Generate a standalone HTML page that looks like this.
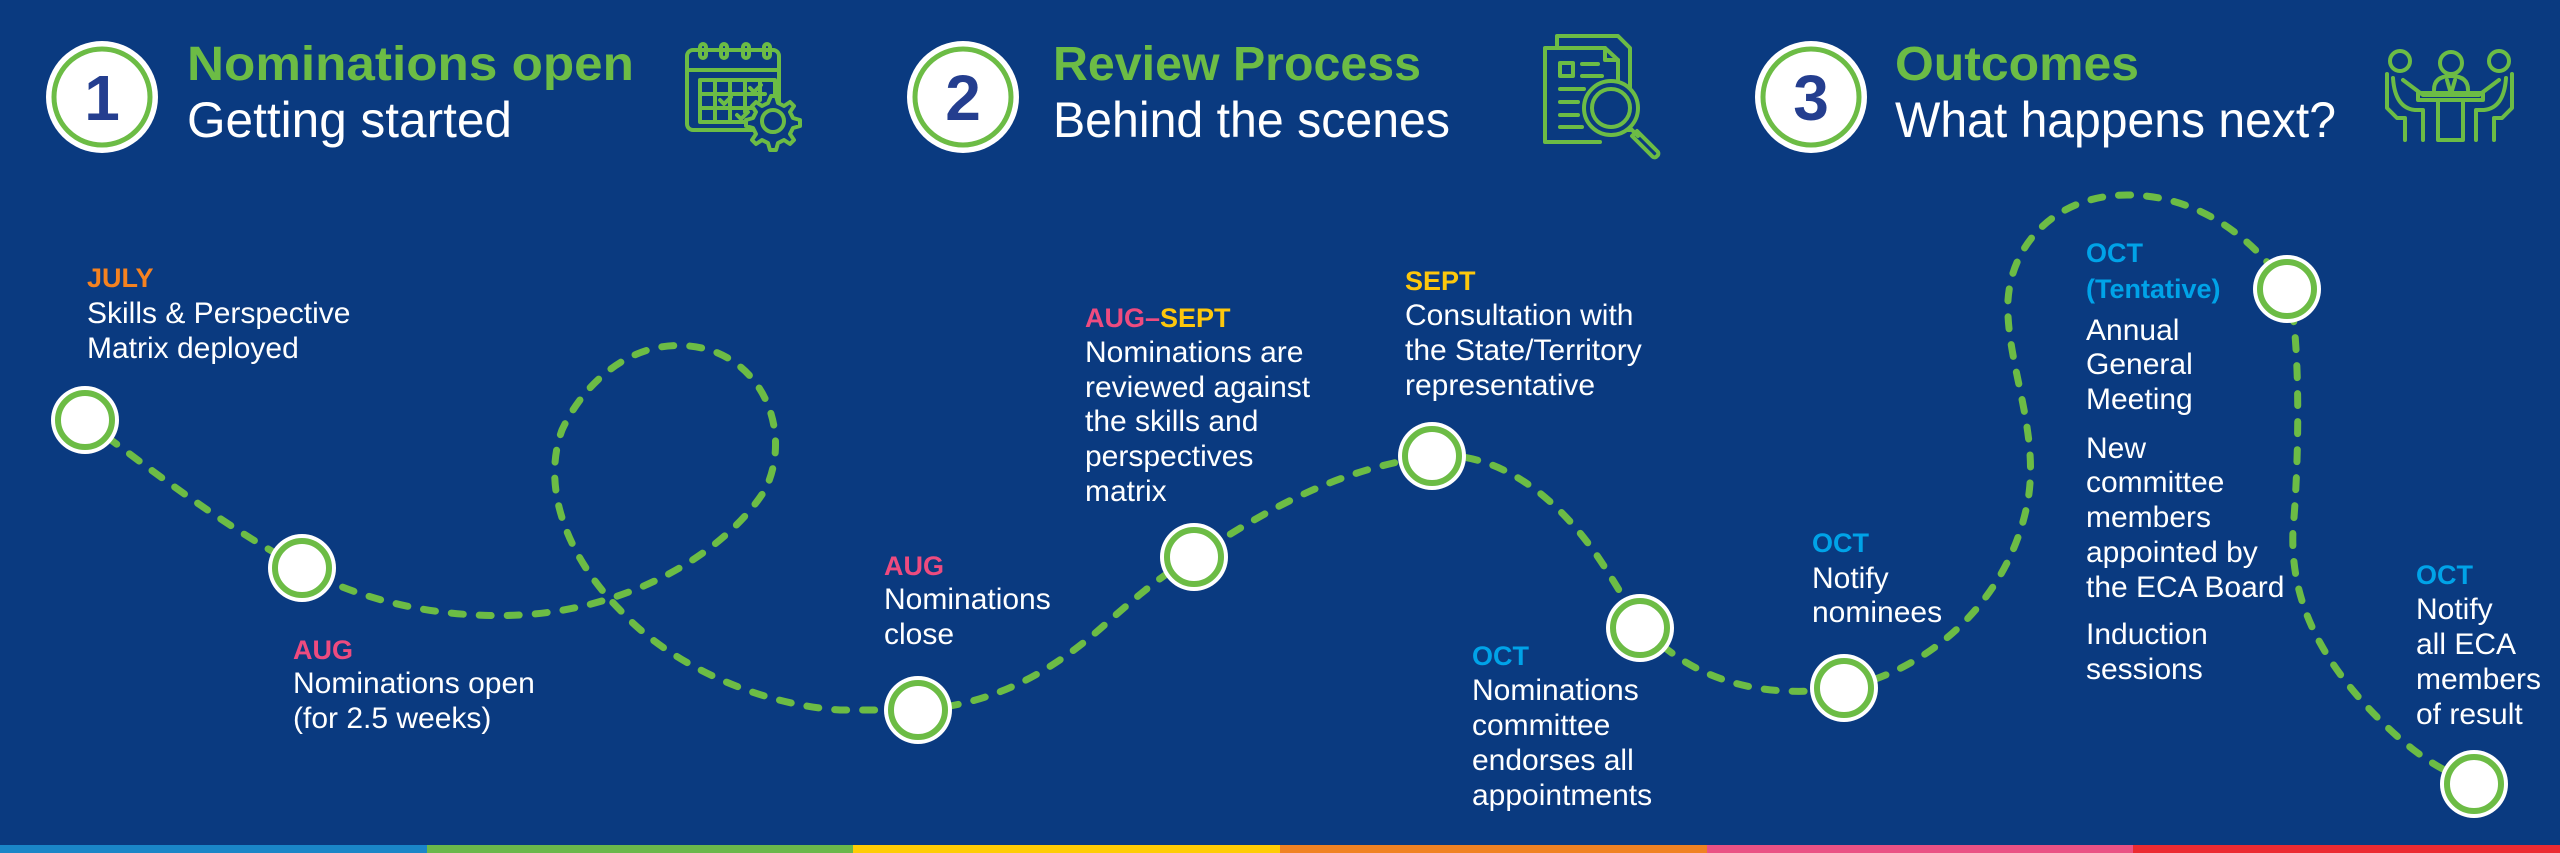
<!DOCTYPE html>
<html><head><meta charset="utf-8"><style>
html,body{margin:0;padding:0;background:#0a3a80;}
svg{display:block}
.t{font-family:"Liberation Sans",sans-serif;fill:#fff;font-size:30px;}
.h{font-family:"Liberation Sans",sans-serif;font-weight:bold;font-size:27px;}
.tt{font-family:"Liberation Sans",sans-serif;font-weight:bold;font-size:48px;fill:#6cbc45;}
.st{font-family:"Liberation Sans",sans-serif;font-size:50px;fill:#fff;}
.num{font-family:"Liberation Sans",sans-serif;font-weight:bold;font-size:64px;fill:#243e8f;}
</style></head><body>
<svg width="2560" height="853" viewBox="0 0 2560 853" xmlns="http://www.w3.org/2000/svg">
<rect width="2560" height="853" fill="#0a3a80"/>
<!-- bottom bar -->
<rect x="0" y="845" width="427" height="8" fill="#1a86c8"/>
<rect x="427" y="845" width="426" height="8" fill="#6ab84a"/>
<rect x="853" y="845" width="427" height="8" fill="#ffcc05"/>
<rect x="1280" y="845" width="427" height="8" fill="#f08223"/>
<rect x="1707" y="845" width="426" height="8" fill="#ea5284"/>
<rect x="2133" y="845" width="427" height="8" fill="#ec2b32"/>

<!-- headers -->
<g>
<circle cx="102" cy="97" r="56" fill="#fff"/><circle cx="102" cy="97" r="48" fill="#fff" stroke="#6cbc45" stroke-width="5"/>
<text class="num" x="102" y="120" text-anchor="middle">1</text>
<text class="tt" x="187" y="80" textLength="447" lengthAdjust="spacingAndGlyphs">Nominations open</text>
<text class="st" x="187" y="137" textLength="325" lengthAdjust="spacingAndGlyphs">Getting started</text>

<circle cx="963" cy="97" r="56" fill="#fff"/><circle cx="963" cy="97" r="48" fill="#fff" stroke="#6cbc45" stroke-width="5"/>
<text class="num" x="963" y="120" text-anchor="middle">2</text>
<text class="tt" x="1053" y="80" textLength="368" lengthAdjust="spacingAndGlyphs">Review Process</text>
<text class="st" x="1053" y="137" textLength="397" lengthAdjust="spacingAndGlyphs">Behind the scenes</text>

<circle cx="1811" cy="97" r="56" fill="#fff"/><circle cx="1811" cy="97" r="48" fill="#fff" stroke="#6cbc45" stroke-width="5"/>
<text class="num" x="1811" y="120" text-anchor="middle">3</text>
<text class="tt" x="1895" y="80" textLength="244" lengthAdjust="spacingAndGlyphs">Outcomes</text>
<text class="st" x="1895" y="137" textLength="441" lengthAdjust="spacingAndGlyphs">What happens next?</text>
</g>

<!-- icons -->
<g fill="none" stroke="#6cbc45" stroke-width="4" stroke-linecap="round" stroke-linejoin="round">
  <!-- calendar -->
  <rect x="687" y="50" width="92" height="80" rx="6"/>
  <line x1="687" y1="70" x2="779" y2="70"/>
  <rect x="700" y="44" width="6" height="14" rx="3"/><rect x="721" y="44" width="6" height="14" rx="3"/>
  <rect x="743" y="44" width="6" height="14" rx="3"/><rect x="764" y="44" width="6" height="14" rx="3"/>
  <path d="M700 80 H775 V100 M700 80 V122 H750 M715 80 V122 M730 80 V122 M745 80 V112 M760 80 V100 M700 94 H765 M700 108 H752"/>
  <path d="M750 88 l4 4 l7 -7 M720 100 l4 4 l7 -7 M737 115 l4 4 l7 -7"/>
  <path d="M771 96 l5 0 l2 7 l6 3 l6 -4 l4 4 l-4 6 l3 6 l7 2 v6 l-7 2 l-3 6 l4 6 l-4 4 l-6 -4 l-6 3 l-2 7 h-6 l-2 -7 l-6 -3 l-6 4 l-4 -4 l4 -6 l-3 -6 l-7 -2 v-6 l7 -2 l3 -6 l-4 -6 l4 -4 l6 4 l6 -3 z" fill="#0a3a80"/>
  <circle cx="773" cy="121" r="11"/>
  <!-- document & magnifier -->
  <path d="M1557 48 V36 H1618 L1630 48 V130 H1618"/>
  <path d="M1545 48 H1605 L1618 60 V90 M1545 48 V142 H1600" fill="#0a3a80"/>
  <path d="M1605 48 V60 H1618"/>
  <rect x="1560" y="63" width="13" height="13"/>
  <path d="M1582 64 H1598 M1582 76 H1602 M1560 89 H1584 M1560 102 H1578 M1560 115 H1578 M1560 127 H1582"/>
  <circle cx="1611" cy="108" r="27" fill="#0a3a80"/><circle cx="1611" cy="108" r="19"/>
  <path d="M1630 128 l8 8 M1637 131 l-5 5 l20 20 a3 3 0 0 0 5 0 l0 0 a3 3 0 0 0 0 -5 z"/>
  <!-- meeting -->
  <circle cx="2400" cy="61" r="10"/><circle cx="2451" cy="63" r="11"/><circle cx="2499" cy="61" r="10"/>
  <path d="M2434 90 q0 -14 17 -14 q17 0 17 14"/>
  <path d="M2447 80 l4 14 l4 -14"/>
  <path d="M2387 74 V108 l10 10 h8 V140 M2393 78 q2 30 22 32 h8 v30"/>
  <path d="M2512 74 V108 l-10 10 h-8 V140 M2506 78 q-2 30 -22 32 h-8 v30"/>
  <path d="M2403 80 l20 15 h56 l20 -15"/>
  <rect x="2418" y="93" width="65" height="7"/>
  <path d="M2438 100 V140 H2463 V100"/>
</g>

<!-- dashed path -->
<path fill="none" stroke="#6cbc45" stroke-width="7" stroke-linecap="round" stroke-dasharray="12 16"
d="M85 420 C150 470 230 530 302 568
   C340 590 420 620 520 615 C620 610 720 560 765 490
   C790 440 770 370 710 350 C640 330 585 380 562 430
   C540 490 570 560 620 610 C670 665 760 705 840 710 L918 710
   C990 705 1050 675 1110 620 C1150 585 1170 570 1194 557
   C1260 515 1330 470 1432 456
   C1500 450 1560 500 1600 560 C1620 590 1630 610 1640 624
   C1690 680 1760 700 1844 688
   C1930 670 2010 600 2028 500 C2040 430 2005 360 2008 300
   C2012 240 2060 195 2127 195 C2200 195 2255 240 2288 289
   C2300 330 2300 450 2293 530 C2290 600 2320 660 2380 720 C2420 760 2450 775 2474 782"/>

<!-- nodes -->
<g fill="#fff">
<g id="n"><circle cx="85" cy="420" r="34"/><circle cx="85" cy="420" r="27" stroke="#6cbc45" stroke-width="6"/></g>
<circle cx="302" cy="568" r="34"/><circle cx="302" cy="568" r="27" stroke="#6cbc45" stroke-width="6"/>
<circle cx="918" cy="710" r="34"/><circle cx="918" cy="710" r="27" stroke="#6cbc45" stroke-width="6"/>
<circle cx="1194" cy="557" r="34"/><circle cx="1194" cy="557" r="27" stroke="#6cbc45" stroke-width="6"/>
<circle cx="1432" cy="456" r="34"/><circle cx="1432" cy="456" r="27" stroke="#6cbc45" stroke-width="6"/>
<circle cx="1640" cy="628" r="34"/><circle cx="1640" cy="628" r="27" stroke="#6cbc45" stroke-width="6"/>
<circle cx="1844" cy="688" r="34"/><circle cx="1844" cy="688" r="27" stroke="#6cbc45" stroke-width="6"/>
<circle cx="2287" cy="289" r="34"/><circle cx="2287" cy="289" r="27" stroke="#6cbc45" stroke-width="6"/>
<circle cx="2474" cy="784" r="34"/><circle cx="2474" cy="784" r="27" stroke="#6cbc45" stroke-width="6"/>
</g>

<!-- labels -->
<text class="h" x="87" y="287" fill="#f58220">JULY</text>
<text class="t" x="87" y="323">Skills &amp; Perspective</text>
<text class="t" x="87" y="358">Matrix deployed</text>

<text class="h" x="293" y="659" fill="#ee4b7f">AUG</text>
<text class="t" x="293" y="693">Nominations open</text>
<text class="t" x="293" y="728">(for 2.5 weeks)</text>

<text class="h" x="884" y="575" fill="#ee4b7f">AUG</text>
<text class="t" x="884" y="609">Nominations</text>
<text class="t" x="884" y="644">close</text>

<text class="h" x="1085" y="327"><tspan fill="#ee4b7f">AUG–</tspan><tspan fill="#fdc70c">SEPT</tspan></text>
<text class="t" x="1085" y="362">Nominations are</text>
<text class="t" x="1085" y="397">reviewed against</text>
<text class="t" x="1085" y="431">the skills and</text>
<text class="t" x="1085" y="466">perspectives</text>
<text class="t" x="1085" y="501">matrix</text>

<text class="h" x="1405" y="290" fill="#fdc70c">SEPT</text>
<text class="t" x="1405" y="325">Consultation with</text>
<text class="t" x="1405" y="360">the State/Territory</text>
<text class="t" x="1405" y="395">representative</text>

<text class="h" x="1472" y="665" fill="#00a3e8">OCT</text>
<text class="t" x="1472" y="700">Nominations</text>
<text class="t" x="1472" y="735">committee</text>
<text class="t" x="1472" y="770">endorses all</text>
<text class="t" x="1472" y="805">appointments</text>

<text class="h" x="1812" y="552" fill="#00a3e8">OCT</text>
<text class="t" x="1812" y="588">Notify</text>
<text class="t" x="1812" y="622">nominees</text>

<text class="h" x="2086" y="262" fill="#00a3e8">OCT</text>
<text class="h" x="2086" y="298" fill="#00a3e8">(Tentative)</text>
<text class="t" x="2086" y="340">Annual</text>
<text class="t" x="2086" y="374">General</text>
<text class="t" x="2086" y="409">Meeting</text>
<text class="t" x="2086" y="458">New</text>
<text class="t" x="2086" y="492">committee</text>
<text class="t" x="2086" y="527">members</text>
<text class="t" x="2086" y="562">appointed by</text>
<text class="t" x="2086" y="597">the ECA Board</text>
<text class="t" x="2086" y="644">Induction</text>
<text class="t" x="2086" y="679">sessions</text>

<text class="h" x="2416" y="584" fill="#00a3e8">OCT</text>
<text class="t" x="2416" y="619">Notify</text>
<text class="t" x="2416" y="654">all ECA</text>
<text class="t" x="2416" y="689">members</text>
<text class="t" x="2416" y="724">of result</text>
</svg>
</body></html>
